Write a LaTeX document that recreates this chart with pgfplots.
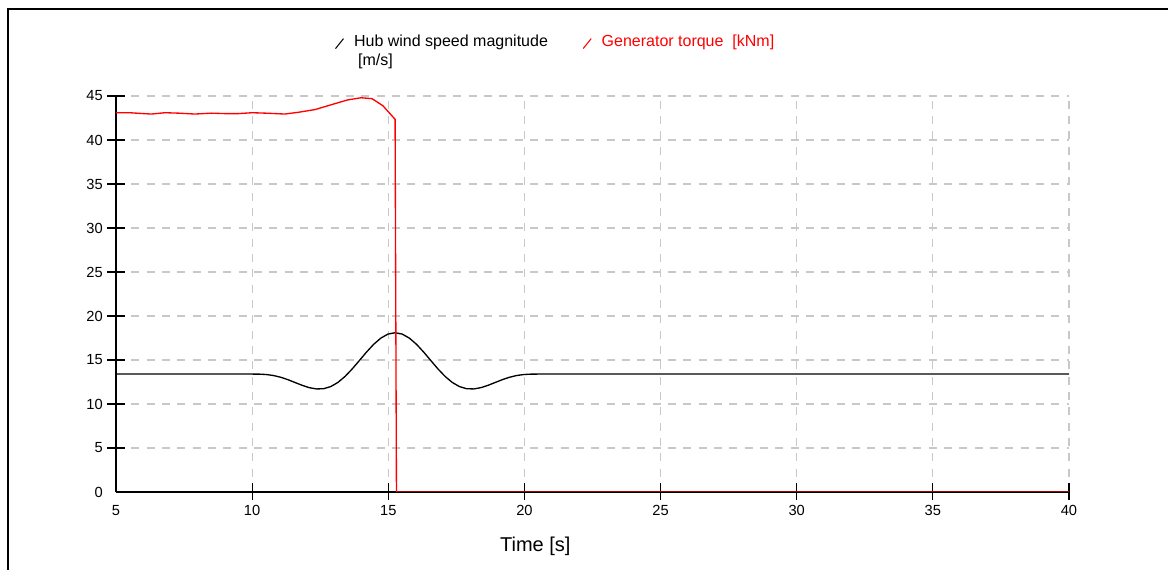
\documentclass[border=0pt]{standalone}
\usepackage{fontspec}
\setmainfont{Liberation Sans}
\usepackage{pgfplots}
\pgfplotsset{compat=1.18}
\definecolor{gridgray}{RGB}{200,200,200}
\begin{document}
\begin{tikzpicture}
\useasboundingbox (0,0) rectangle (876pt,427.5pt);
\draw[line width=2pt] (6pt,0) -- (6pt,420.75pt) -- (876pt,420.75pt);
\begin{axis}[
 at={(87pt,58.5pt)}, anchor=south west,
 scale only axis, width=714.75pt, height=297pt,
 xmin=5, xmax=40, ymin=0, ymax=45,
 axis x line=bottom, axis y line=left,
 axis line style={-, line width=0.9pt, black},
 xtick={10,15,...,40}, ytick={5,10,...,45},
 extra x ticks={5}, extra y ticks={0},
 extra x tick style={major tick style={draw=none}, major grid style={draw=none}},
 extra y tick style={major tick style={draw=none}, major grid style={draw=none}},
 tick align=center, major tick length=12.75pt,
 tick style={black, line width=0.8pt},
 grid=major,
 major grid style={gridgray, line width=0.8pt, dash pattern=on 6pt off 5.5pt},
 tick label style={font=\fontsize{11}{13}\selectfont},
 /pgf/number format/assume math mode=true,
 xlabel={Time [s]},
 xlabel style={at={(axis description cs:0.44,-0.136)}, anchor=center, font=\fontsize{15}{18}\selectfont},
 legend columns=2,
 legend style={at={(axis description cs:0.2298,1.154)}, anchor=north west, draw=none, fill=none, inner sep=0pt, outer sep=0pt, font=\fontsize{12}{14.4}\selectfont, nodes={inner sep=0pt, anchor=base west}, /tikz/every odd column/.append style={column sep=7.5pt}, /tikz/every even column/.append style={column sep=26pt}},
 legend cell align=left,
 legend image code/.code={\draw[#1, line width=0.8pt] (0pt,-1.5pt) -- (6pt,6pt);},
]
\addplot[black, line width=1pt] coordinates {
(5,13.4)(10,13.4)(10.2625,13.393)(10.525,13.348)(10.7875,13.234)(11.05,13.037)(11.3125,12.764)(11.575,12.443)(11.8375,12.121)(12.1,11.856)(12.3625,11.710)(12.625,11.738)(12.8875,11.980)(13.15,12.449)(13.4125,13.132)(13.675,13.984)(13.9375,14.935)(14.2,15.899)(14.4625,16.779)(14.725,17.485)(14.9875,17.942)(15.25,18.100)(15.5125,17.942)(15.775,17.485)(16.0375,16.779)(16.3,15.899)(16.5625,14.935)(16.825,13.984)(17.0875,13.132)(17.35,12.449)(17.6125,11.980)(17.875,11.738)(18.1375,11.710)(18.4,11.856)(18.6625,12.121)(18.925,12.443)(19.1875,12.764)(19.45,13.037)(19.7125,13.234)(19.975,13.348)(20.2375,13.393)(20.5,13.4)(40,13.4)
};
\addlegendentry{\vtop{\hbox{Hub wind speed magnitude}\hbox{\hspace{3pt}[m/s]}}}
\addplot[red, line width=1pt] coordinates {
(5.0,43.1)(5.5,43.1)(6.0,43.0)(6.3,42.95)(6.8,43.1)(7.3,43.05)(7.9,42.95)(8.5,43.05)(9.0,43.0)(9.5,43.0)(10.0,43.1)(10.5,43.05)(11.2,42.95)(11.7,43.15)(12.3,43.45)(12.9,44.0)(13.5,44.55)(14.0,44.8)(14.4,44.7)(14.8,43.9)(15.25,42.35)(15.3,0)(40,0)
};
\addlegendentry{\textcolor{red}{Generator torque\ \ [kNm]}}
\end{axis}
\end{tikzpicture}
\end{document}
